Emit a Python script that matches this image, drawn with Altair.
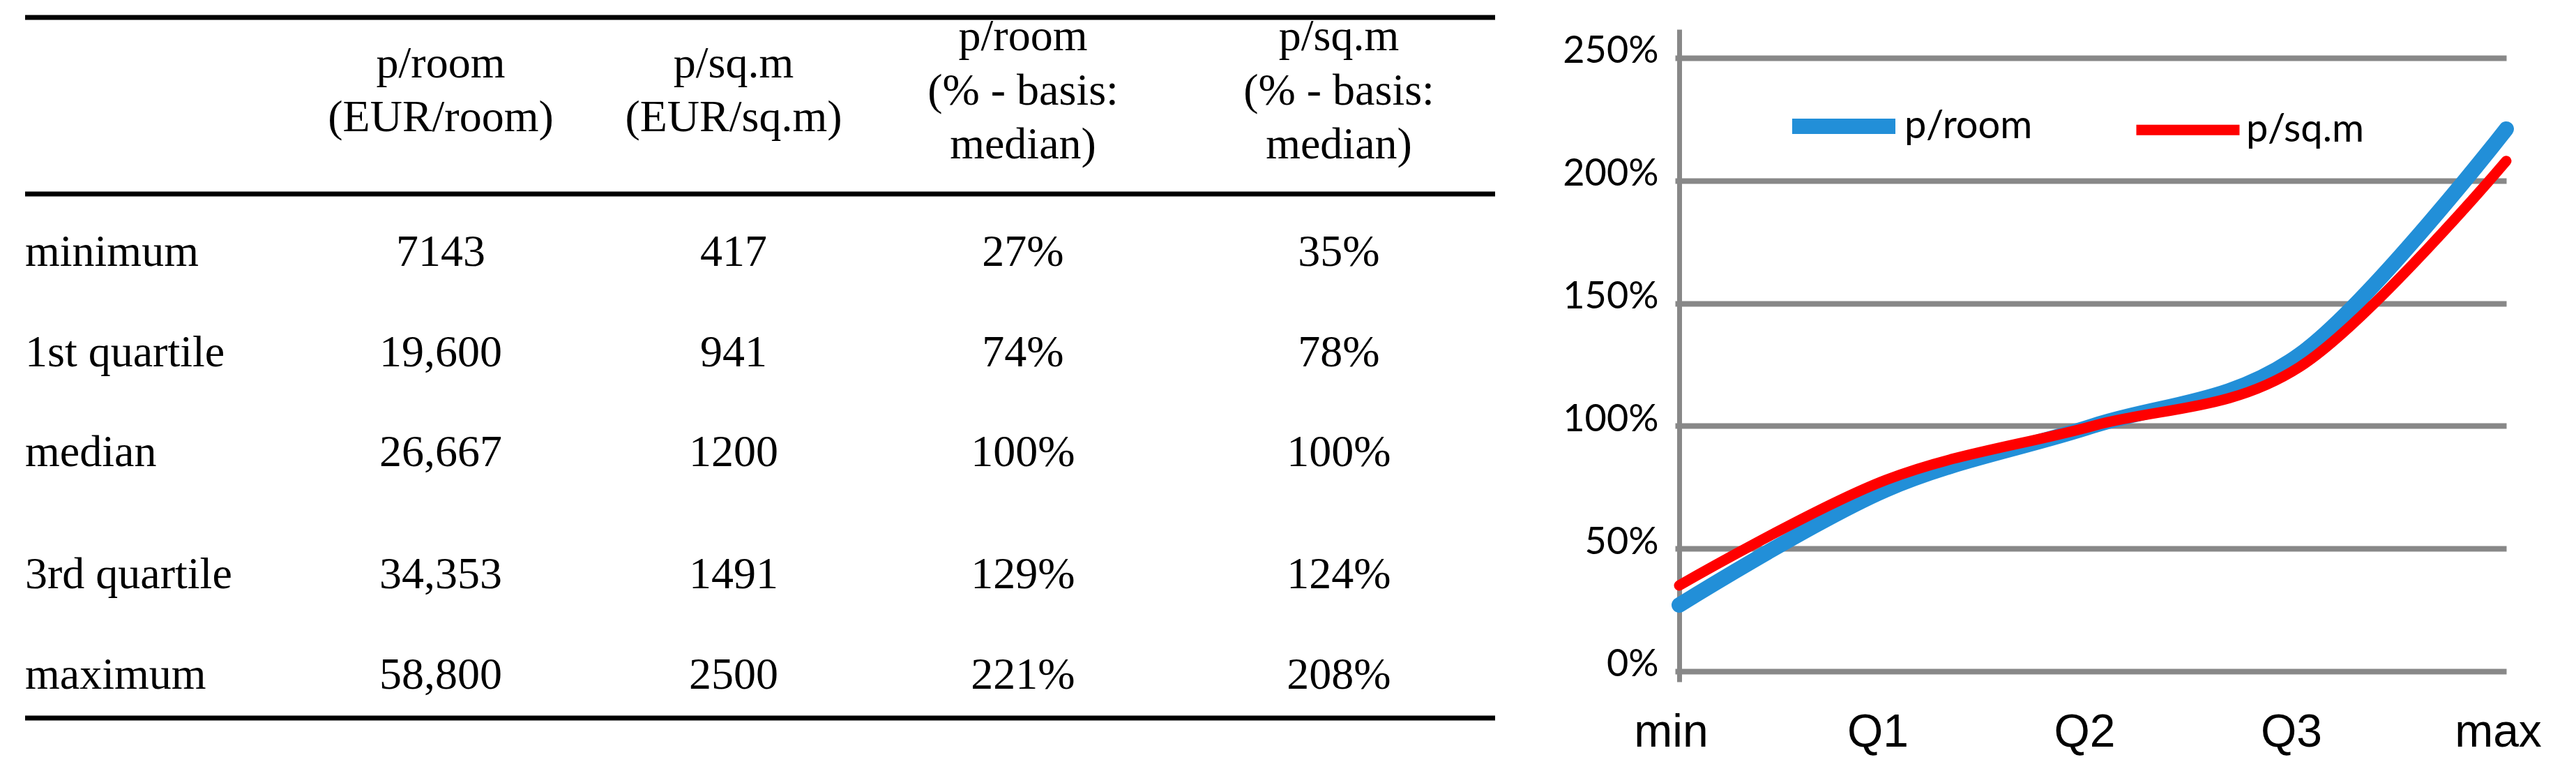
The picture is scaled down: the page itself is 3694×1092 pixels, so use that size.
import altair as alt
import pandas as pd

# ---------------- data ----------------
categories = ["min", "Q1", "Q2", "Q3", "max"]
row_labels = ["minimum", "1st quartile", "median", "3rd quartile", "maximum"]
series_names = ["p/room", "p/sq.m"]
p_room_eur = ["7143", "19,600", "26,667", "34,353", "58,800"]
p_sqm_eur = ["417", "941", "1200", "1491", "2500"]
p_room_pct = [0.27, 0.74, 1.00, 1.29, 2.21]
p_sqm_pct = [0.35, 0.78, 1.00, 1.24, 2.08]
header_labels = [
    ["p/room", "(EUR/room)"],
    ["p/sq.m", "(EUR/sq.m)"],
    ["p/room", "(% - basis:", "median)"],
    ["p/sq.m", "(% - basis:", "median)"],
]
y_ticks = [0, 0.5, 1.0, 1.5, 2.0, 2.5]

# ---------------- layout (page pixels) ----------------
PLOT_X, PLOT_Y = 2408, 42
PLOT_W, PLOT_H = 1186, 935
COL_X = [36, 632, 1052, 1467, 1920]
ROW_BASE = [381, 525, 668, 843, 987]
HEAD_BASE = [72, 227]
RULES_Y = [25, 278, 1029]
TABLE_X = [36, 2144]

SERIF = "Liberation Serif"
SERIF_SIZE = 64
SANS = "Lato"


def pct(v):
    return f"{round(v * 100)}%"


cols = [p_room_eur, p_sqm_eur, [pct(v) for v in p_room_pct], [pct(v) for v in p_sqm_pct]]
cells = []
for i in range(len(row_labels)):
    for c, vals in enumerate(cols, start=1):
        cells.append({"row": i, "col": c, "text": vals[i]})
cells_df = pd.DataFrame(cells)
labels_df = pd.DataFrame({"row": list(range(len(row_labels))), "col": 0, "text": row_labels})
head = []
for c, lines in enumerate(header_labels, start=1):
    start = (3 - len(lines)) / 2
    for k, t in enumerate(lines):
        head.append({"col": c, "slot": start + k, "text": t})
head_df = pd.DataFrame(head)
line_df = pd.DataFrame({
    "cat": categories * 2,
    "series": [series_names[0]] * 5 + [series_names[1]] * 5,
    "value": p_room_pct + p_sqm_pct,
})

col_scale = alt.Scale(domain=[0, 1, 2, 3, 4], range=[x - PLOT_X for x in COL_X], nice=False, zero=False)
row_scale = alt.Scale(domain=[0, 1, 2, 3, 4], range=[y - PLOT_Y for y in ROW_BASE], nice=False, zero=False)
head_scale = alt.Scale(domain=[0, 2], range=[y - PLOT_Y for y in HEAD_BASE], nice=False, zero=False)

legend = alt.Legend(
    title=None, orient="none", legendX=151, legendY=54, direction="horizontal",
    symbolType="stroke", symbolSize=148 * 148, labelFont=SANS, labelFontSize=56,
    labelColor="black", labelOffset=2, columnPadding=118, padding=0, labelLimit=400,
)

lines = alt.Chart(line_df).mark_line(
    interpolate="cardinal", tension=0, strokeCap="round", strokeJoin="round"
).encode(
    x=alt.X("cat:N", sort=categories, scale=alt.Scale(type="point", padding=0),
            axis=alt.Axis(orient="bottom", title=None, labelAngle=0, ticks=False, domain=False,
                          grid=False, labelFont="Liberation Sans", labelFontSize=66,
                          labelColor="black", labelBaseline="alphabetic", labelPadding=92,
                          labelOffset=-12)),
    y=alt.Y("value:Q", scale=alt.Scale(domain=[-0.0427, 2.6166], nice=False, zero=False),
            axis=alt.Axis(orient="left", title=None, values=y_ticks, format=".0%",
                          labelFont=SANS, labelFontSize=54, labelColor="black",
                          labelPadding=24, tickSize=6, tickColor="#888888", tickWidth=8,
                          domainColor="#888888", domainWidth=7, gridColor="#888888",
                          gridWidth=8, labelOffset=-9)),
    color=alt.Color("series:N", scale=alt.Scale(domain=series_names, range=["#228FD8", "#FF0000"]),
                    legend=legend),
    strokeWidth=alt.StrokeWidth("series:N", scale=alt.Scale(domain=series_names, range=[22, 15]),
                                legend=legend),
)

text_base = dict(font=SERIF, fontSize=SERIF_SIZE, baseline="alphabetic", color="black")

header = alt.Chart(head_df).mark_text(align="center", **text_base).encode(
    x=alt.X("col:Q", scale=col_scale, axis=None),
    y=alt.Y("slot:Q", scale=head_scale, axis=None),
    text="text:N",
)
labels = alt.Chart(labels_df).mark_text(align="left", **text_base).encode(
    x=alt.X("col:Q", scale=col_scale, axis=None),
    y=alt.Y("row:Q", scale=row_scale, axis=None),
    text="text:N",
)
body = alt.Chart(cells_df).mark_text(align="center", **text_base).encode(
    x=alt.X("col:Q", scale=col_scale, axis=None),
    y=alt.Y("row:Q", scale=row_scale, axis=None),
    text="text:N",
)

one = pd.DataFrame({"k": [0]})
rules = [
    alt.Chart(one).mark_rule(color="black", strokeWidth=7, strokeCap="butt").encode(
        x=alt.value(TABLE_X[0] - PLOT_X), x2=alt.value(TABLE_X[1] - PLOT_X), y=alt.value(ry - PLOT_Y)
    )
    for ry in RULES_Y
]

chart = alt.layer(lines, header, labels, body, *rules).resolve_scale(
    x="independent", y="independent"
).properties(
    width=PLOT_W, height=PLOT_H,
    autosize=alt.AutoSizeParams(type="none"),
    padding={"left": PLOT_X - 8, "top": PLOT_Y - 8, "right": 80, "bottom": 110},
    background="white",
).configure_view(stroke=None)

chart.save("out.html", embed_options={"renderer": "svg", "actions": False})
